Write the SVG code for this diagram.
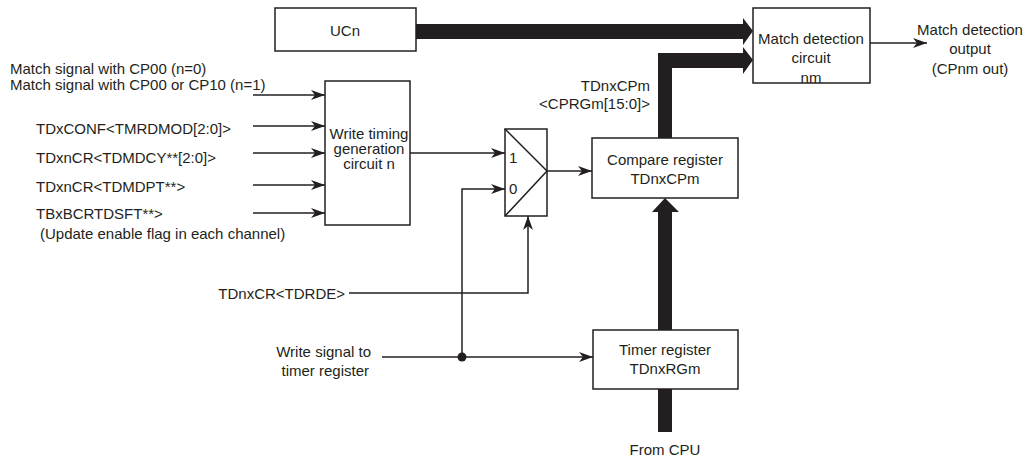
<svg xmlns="http://www.w3.org/2000/svg" width="1028" height="465" viewBox="0 0 1028 465">
<defs>
<style>
text{font-family:"Liberation Sans",Arial,sans-serif;font-size:15px;fill:#231f20;dominant-baseline:central}
.box{fill:#fff;stroke:#231f20;stroke-width:1.5}
.w{fill:none;stroke:#231f20;stroke-width:1.5}
.bus{fill:#231f20;stroke:none}
.m{text-anchor:middle}
.e{text-anchor:end}
</style>
<marker id="ah" viewBox="0 0 14 10" refX="14" refY="5" markerWidth="14" markerHeight="10" markerUnits="userSpaceOnUse" orient="auto">
<path d="M0,0 L14,5 L0,10 L4,5 Z" fill="#231f20"/>
</marker>
</defs>
<g id="connectors">
<line class="w" x1="253" y1="95" x2="325" y2="95" marker-end="url(#ah)"/>
<line class="w" x1="253" y1="126" x2="325" y2="126" marker-end="url(#ah)"/>
<line class="w" x1="253" y1="153" x2="325" y2="153" marker-end="url(#ah)"/>
<line class="w" x1="253" y1="185" x2="325" y2="185" marker-end="url(#ah)"/>
<line class="w" x1="253" y1="213" x2="325" y2="213" marker-end="url(#ah)"/>
<line class="w" x1="410" y1="153" x2="505" y2="153" marker-end="url(#ah)"/>
<line class="w" x1="547" y1="171" x2="592" y2="171" marker-end="url(#ah)"/>
<polyline class="w" points="462,357 462,189 505,189" marker-end="url(#ah)"/>
<polyline class="w" points="349,293 528,293 528,216" marker-end="url(#ah)"/>
<line class="w" x1="382" y1="357" x2="593" y2="357" marker-end="url(#ah)"/>
<circle cx="462" cy="357" r="4.5" fill="#231f20"/>
<line class="w" x1="870" y1="43" x2="927" y2="43" marker-end="url(#ah)"/>
<path class="bus" d="M416,24 H743 V18 L753,31 L743,45 V39 H416 Z"/>
<path class="bus" d="M658,138 V53 H743 V47 L753,60 L743,74 V68 H672 V138 Z"/>
<path class="bus" d="M658,432 V212 H652 L665,198 L679,212 H672 V432 Z"/>
</g>
<g id="ucn">
<rect class="box" x="275" y="8" width="141" height="43"/>
<text class="m" x="345" y="30">UCn</text>
</g>
<g id="match-detection">
<rect class="box" x="753" y="8" width="117" height="75"/>
<text class="m" x="811" y="38">Match detection</text>
<text class="m" x="811" y="57">circuit</text>
<text class="m" x="811" y="77">nm</text>
</g>
<g id="match-output">
<text class="m" x="970" y="29">Match detection</text>
<text class="m" x="970" y="48">output</text>
<text class="m" x="970" y="68">(CPnm out)</text>
</g>
<g id="write-timing">
<rect class="box" x="325" y="81" width="85" height="144"/>
<text class="m" x="369" y="133">Write timing</text>
<text class="m" x="369" y="148">generation</text>
<text class="m" x="369" y="163">circuit n</text>
</g>
<g id="mux">
<rect class="box" x="505" y="129" width="42" height="87"/>
<polyline class="w" points="505,129 547,171 505,216"/>
<text x="509" y="157">1</text>
<text x="509" y="188">0</text>
</g>
<g id="compare-register">
<rect class="box" x="592" y="138" width="146" height="60"/>
<text class="m" x="665" y="159">Compare register</text>
<text class="m" x="665" y="178">TDnxCPm</text>
</g>
<g id="timer-register">
<rect class="box" x="593" y="330" width="145" height="59"/>
<text class="m" x="665" y="349">Timer register</text>
<text class="m" x="665" y="368">TDnxRGm</text>
</g>
<g id="labels">
<text x="10" y="68">Match signal with CP00 (n=0)</text>
<text x="10" y="84">Match signal with CP00 or CP10 (n=1)</text>
<text x="36" y="128">TDxCONF&lt;TMRDMOD[2:0]&gt;</text>
<text x="36" y="157">TDxnCR&lt;TDMDCY**[2:0]&gt;</text>
<text x="36" y="186">TDxnCR&lt;TDMDPT**&gt;</text>
<text x="36" y="213">TBxBCRTDSFT**&gt;</text>
<text x="40" y="233">(Update enable flag in each channel)</text>
<text class="e" x="650" y="85">TDnxCPm</text>
<text class="e" x="650" y="103">&lt;CPRGm[15:0]&gt;</text>
<text class="e" x="345" y="293">TDnxCR&lt;TDRDE&gt;</text>
<text class="e" x="371" y="351">Write signal to</text>
<text class="e" x="369" y="370">timer register</text>
<text class="m" x="665" y="449">From CPU</text>
</g>
</svg>
